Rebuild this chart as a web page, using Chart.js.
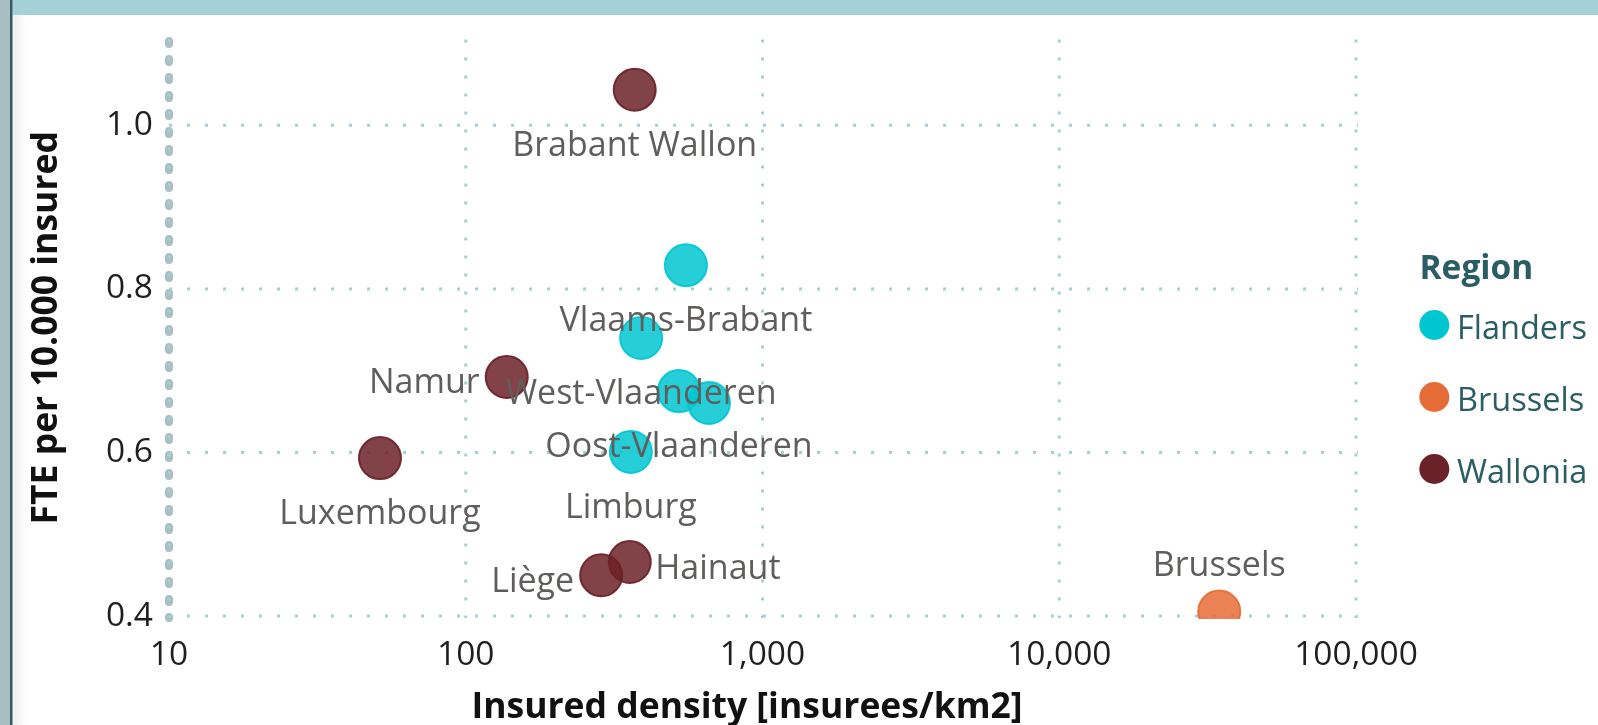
<!DOCTYPE html>
<html><head><meta charset="utf-8">
<script src="https://cdn.jsdelivr.net/npm/chart.js@4.4.1/dist/chart.umd.min.js"></script>
<style>html,body{margin:0;padding:0;background:#fff;overflow:hidden}#wrap{position:relative;width:1598px;height:725px}canvas{display:block}</style>
</head><body><div id="wrap"><canvas id="c" width="1598" height="725"></canvas></div>
<script>
// ---- data ----
const regions = ["Flanders", "Brussels", "Wallonia"];
const flandersNames = ["Antwerpen", "Limburg", "Oost-Vlaanderen", "Vlaams-Brabant", "West-Vlaanderen"];
const flandersDensity = [660, 360, 523, 552, 390];
const flandersFte = [0.6605, 0.6007, 0.675, 0.829, 0.740];
const brusselsNames = ["Brussels"];
const brusselsDensity = [34600];
const brusselsFte = [0.4055];
const walloniaNames = ["Brabant Wallon", "Hainaut", "Liège", "Luxembourg", "Namur"];
const walloniaDensity = [371, 357, 286, 51.4, 137.4];
const walloniaFte = [1.0436, 0.466, 0.4498, 0.5931, 0.6923];
const xTicks = [10, 100, 1000, 10000, 100000];
const xTickLabels = ["10", "100", "1,000", "10,000", "100,000"];
const yTicks = [0.4, 0.6, 0.8, 1.0];
const yTickLabels = ["0.4", "0.6", "0.8", "1.0"];
const xTitle = "Insured density [insurees/km2]";
const yTitle = "FTE per 10.000 insured";
const legendTitle = "Region";

// ---- styles ----
const regionColors = [[0, 198, 209], [230, 108, 55], [107, 33, 40]];
const labelPlacement = {
  "Antwerpen": "none", "Limburg": "below", "Oost-Vlaanderen": "below", "Vlaams-Brabant": "below",
  "West-Vlaanderen": "below", "Brussels": "above", "Brabant Wallon": "below", "Hainaut": "right",
  "Liège": "left", "Luxembourg": "below", "Namur": "left"
};
const FONT = '"Open Sans", "Noto Sans", sans-serif';
function rgba(c, a) { return `rgba(${c[0]},${c[1]},${c[2]},${a})`; }

const seriesNames = [flandersNames, brusselsNames, walloniaNames];
const seriesX = [flandersDensity, brusselsDensity, walloniaDensity];
const seriesY = [flandersFte, brusselsFte, walloniaFte];

const datasets = regions.map((r, k) => ({
  label: r,
  data: seriesNames[k].map((n, i) => ({ x: seriesX[k][i], y: seriesY[k][i], name: n })),
  backgroundColor: rgba(regionColors[k], 0.85),
  borderColor: rgba(regionColors[k], 0.92),
  borderWidth: 2,
  pointRadius: 21,
  pointHoverRadius: 21,
  clip: { left: false, top: false, right: false, bottom: 3 }
}));

const framePlugin = {
  id: 'frame',
  beforeDraw(chart) {
    const ctx = chart.ctx, W = chart.width, H = chart.height;
    ctx.save();
    ctx.fillStyle = '#ffffff'; ctx.fillRect(0, 0, W, H);
    const g = ctx.createLinearGradient(12.5, 0, 26, 0);
    g.addColorStop(0, 'rgba(0,0,0,0.07)'); g.addColorStop(1, 'rgba(0,0,0,0)');
    ctx.fillStyle = g; ctx.fillRect(12.5, 15, 14, H - 15);
    ctx.fillStyle = '#A5D0D7'; ctx.fillRect(12.5, 0, W - 12.5, 15);
    ctx.fillStyle = '#A9BEC2'; ctx.fillRect(0, 0, 10, H);
    ctx.fillStyle = '#2D5C63'; ctx.fillRect(10, 0, 2.5, H);
    ctx.restore();
  },
  beforeDatasetsDraw(chart) {
    const ctx = chart.ctx, a = chart.chartArea, xs = chart.scales.x, ys = chart.scales.y;
    ctx.save();
    const x0 = xs.getPixelForValue(xTicks[0]);
    ctx.strokeStyle = '#AABFC3'; ctx.lineWidth = 8; ctx.lineCap = 'round';
    ctx.setLineDash([3, 15]);
    ctx.beginPath(); ctx.moveTo(x0, a.top + 1.5); ctx.lineTo(x0, a.bottom + 2); ctx.stroke();
    ctx.lineCap = 'butt'; ctx.strokeStyle = '#A3D0D5'; ctx.lineWidth = 3; ctx.setLineDash([3, 15]);
    xTicks.forEach(v => {
      const p = xs.getPixelForValue(v);
      ctx.beginPath(); ctx.moveTo(p, a.top); ctx.lineTo(p, a.bottom + 2); ctx.stroke();
    });
    yTicks.forEach(v => {
      const p = ys.getPixelForValue(v);
      ctx.beginPath(); ctx.moveTo(a.left, p); ctx.lineTo(a.right + 2, p); ctx.stroke();
    });
    ctx.restore();
  },
  afterDatasetsDraw(chart) {
    const ctx = chart.ctx;
    ctx.save();
    ctx.font = `34px ${FONT}`; ctx.fillStyle = '#605E5C'; ctx.textBaseline = 'alphabetic';
    chart.data.datasets.forEach((ds, k) => {
      const meta = chart.getDatasetMeta(k);
      ds.data.forEach((d, i) => {
        const el = meta.data[i]; const pl = labelPlacement[d.name];
        if (!el || pl === 'none') return;
        let tx = el.x, ty = el.y;
        if (pl === 'below') { ctx.textAlign = 'center'; ty = el.y + 66; }
        else if (pl === 'above') { ctx.textAlign = 'center'; ty = el.y - 36; }
        else if (pl === 'left') { ctx.textAlign = 'right'; tx = el.x - 27; ty = el.y + 16.5; }
        else { ctx.textAlign = 'left'; tx = el.x + 25.5; ty = el.y + 16.5; }
        ctx.fillText(d.name, tx, ty);
      });
    });
    ctx.restore();
  },
  afterDraw(chart) {
    const ctx = chart.ctx, a = chart.chartArea;
    ctx.save();
    ctx.fillStyle = '#111'; ctx.font = `bold 35.5px ${FONT}`; ctx.textAlign = 'center'; ctx.textBaseline = 'alphabetic';
    ctx.fillText(xTitle, 747, 718);
    ctx.translate(57, (a.top + a.bottom) / 2); ctx.rotate(-Math.PI / 2);
    ctx.fillText(yTitle, 0, 0);
    ctx.restore();
    ctx.save();
    ctx.textAlign = 'left'; ctx.textBaseline = 'alphabetic';
    ctx.fillStyle = '#2A5D64'; ctx.font = `bold 33.5px ${FONT}`;
    ctx.fillText(legendTitle, 1419.5, 279.3);
    ctx.font = `32.5px ${FONT}`;
    chart.data.datasets.forEach((ds, k) => {
      const cy = 325 + k * 72;
      ctx.fillStyle = rgba(regionColors[k], 1);
      ctx.beginPath(); ctx.arc(1434.3, cy, 15, 0, Math.PI * 2); ctx.fill();
      ctx.fillStyle = '#2A5D64';
      ctx.fillText(ds.label, 1457, cy + 14);
    });
    ctx.restore();
  }
};

function build() {
  new Chart(document.getElementById('c'), {
    type: 'scatter',
    data: { datasets },
    plugins: [framePlugin],
    options: {
      responsive: false, animation: false, events: [],
      layout: { padding: { left: 0, top: 39.5, right: 242, bottom: 0 } },
      plugins: { legend: { display: false }, tooltip: { enabled: false } },
      scales: {
        x: {
          type: 'logarithmic', min: xTicks[0], max: xTicks[xTicks.length - 1],
          afterBuildTicks: s => { s.ticks = xTicks.map(v => ({ value: v })); },
          afterFit: s => { s.height = 109; },
          ticks: {
            callback: (v, i) => xTickLabels[i], autoSkip: false, maxRotation: 0, minRotation: 0,
            font: { family: FONT, size: 33.5 }, color: '#201F1E', padding: 19
          },
          grid: { display: false, drawTicks: false },
          border: { display: false }
        },
        y: {
          type: 'linear', min: yTicks[0], max: 1.105,
          afterBuildTicks: s => { s.ticks = yTicks.map(v => ({ value: v })); },
          afterFit: s => { s.width = 169; },
          ticks: {
            callback: (v, i) => yTickLabels[i], autoSkip: false,
            font: { family: FONT, size: 33.5 }, color: '#201F1E', padding: 16
          },
          grid: { display: false, drawTicks: false },
          border: { display: false }
        }
      }
    }
  });
}
Promise.all([
  document.fonts.load(`33px "Open Sans"`),
  document.fonts.load(`bold 33px "Open Sans"`)
]).then(build, build);
</script></body></html>
